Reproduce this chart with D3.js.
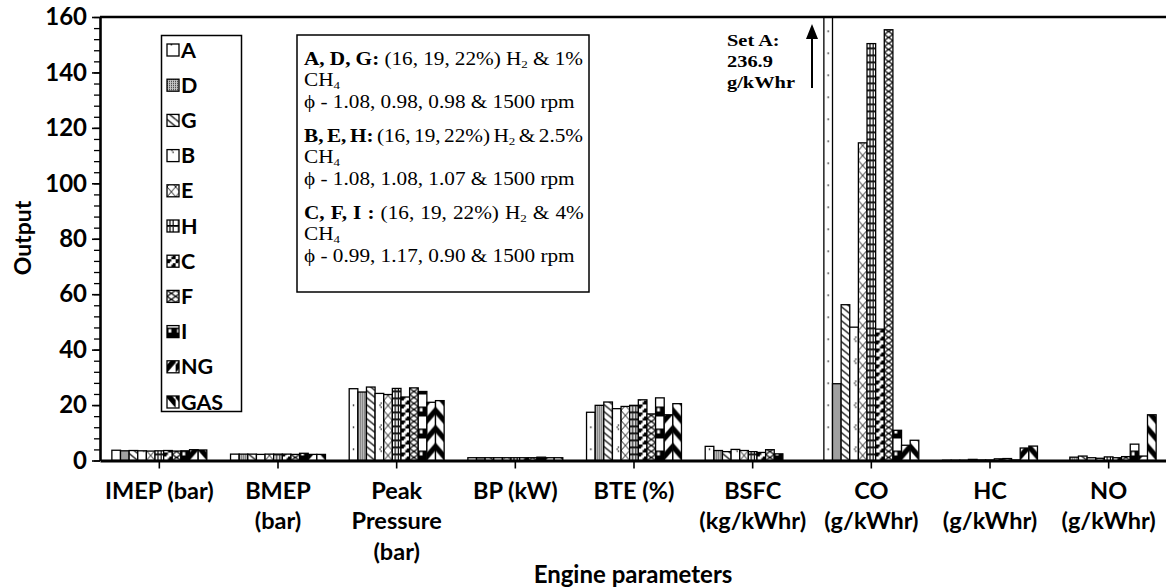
<!DOCTYPE html>
<html>
<head>
<meta charset="utf-8">
<script src="https://cdn.jsdelivr.net/npm/d3@7/dist/d3.min.js"></script>
<style>
  html, body { margin: 0; padding: 0; background: #fff; }
  svg { display: block; }
  .sans { font-family: Lato, "Open Sans", sans-serif; font-weight: 700; }
  .serif { font-family: "Liberation Serif", "Times New Roman", serif; }
</style>
</head>
<body>
<svg id="chart" width="1166" height="587"></svg>
<script>
// Engine parameter groups and their axis label lines
const categories = ["IMEP", "BMEP", "Peak Pressure", "BP", "BTE", "BSFC", "CO", "HC", "NO"];
const categoryLabels = [
  ["IMEP (bar)"], ["BMEP", "(bar)"], ["Peak", "Pressure", "(bar)"], ["BP (kW)"],
  ["BTE (%)"], ["BSFC", "(kg/kWhr)"], ["CO", "(g/kWhr)"], ["HC", "(g/kWhr)"], ["NO", "(g/kWhr)"]
];
const seriesNames = ["A", "D", "G", "B", "E", "H", "C", "F", "I", "NG", "GAS"];

// Output per set, in category order
const valuesA   = [3.7, 2.3, 25.9, 1.0, 17.4, 5.1, 236.9, 0.1, 0.0];
const valuesD   = [3.5, 2.3, 24.7, 1.0, 19.9, 3.6, 27.7, 0.1, 1.2];
const valuesG   = [3.6, 2.3, 26.5, 1.0, 21.1, 3.2, 56.2, 0.1, 1.6];
const valuesB   = [3.5, 2.2, 24.2, 1.0, 18.7, 4.0, 48.1, 0.4, 1.0];
const valuesE   = [3.4, 2.3, 23.8, 1.0, 19.5, 3.6, 114.6, 0.2, 0.8];
const valuesH   = [3.5, 2.3, 26.0, 1.0, 19.9, 3.2, 150.4, 0.2, 1.3];
const valuesC   = [3.6, 2.3, 22.9, 1.0, 21.9, 2.9, 47.4, 0.6, 1.0];
const valuesF   = [3.4, 2.2, 26.2, 1.0, 16.8, 3.9, 155.4, 0.7, 1.4];
const valuesI   = [3.5, 2.6, 24.9, 1.2, 22.6, 2.4, 10.9, 0.2, 5.9];
const valuesNG  = [3.9, 2.2, 21.0, 1.0, 16.5, 0.0, 5.5, 4.5, 1.6];
const valuesGAS = [3.8, 2.2, 21.6, 1.0, 20.5, 0.0, 7.3, 5.2, 16.5];

const yTicks = [0, 20, 40, 60, 80, 100, 120, 140, 160];
const yMinorTicks = d3.range(0, 161, 4);

const seriesValues = {
  A: valuesA, D: valuesD, G: valuesG, B: valuesB, E: valuesE, H: valuesH,
  C: valuesC, F: valuesF, I: valuesI, NG: valuesNG, GAS: valuesGAS
};

const svg = d3.select("#chart");
const plotLeft = 100, plotRight = 1168, plotTop = 17, plotBottom = 460.5;

const x0 = d3.scaleBand().domain(categories).range([plotLeft, plotRight]).paddingInner(0.2).paddingOuter(0.1);
const x1 = d3.scaleBand().domain(seriesNames).range([0, x0.bandwidth()]);
const y = d3.scaleLinear().domain([0, 160]).range([plotBottom, plotTop]);
const bw = x1.bandwidth();

// Hatch patterns, one per set; tiles are anchored at each bar's left edge and baseline
const defs = svg.append("defs");
function pat(id, h, draw, w = bw) {
  const p = defs.append("pattern").attr("id", id).attr("patternUnits", "userSpaceOnUse")
    .attr("x", 0).attr("y", 0).attr("width", w).attr("height", h);
  p.append("rect").attr("width", w).attr("height", h).attr("fill", "#fff");
  draw(p, w, h);
}
pat("p-A", 22, (p, w) => p.append("rect").attr("x", w / 2 - 0.7).attr("y", 10).attr("width", 1.4).attr("height", 1.4).attr("fill", "#000"));
pat("p-D", 2, (p) => {
  p.append("rect").attr("width", 2).attr("height", 2).attr("fill", "#c4c4c4");
  p.append("rect").attr("x", 0).attr("y", 0).attr("width", 1).attr("height", 1).attr("fill", "#333");
}, 2);
pat("p-G", 7, (p, w, h) => {
  p.append("path").attr("d", `M0,0L${w},${h}M${-w},${-h}L${w},${h}M0,${-h}L${w},0M0,${h}L${w},${2 * h}`)
    .attr("stroke", "#000").attr("stroke-width", 1.3);
});
pat("p-B", 22, (p, w) => {
  p.append("rect").attr("x", w - 3.2).attr("y", 8).attr("width", 1.3).attr("height", 1.3).attr("fill", "#000");
  p.append("rect").attr("x", w - 4.4).attr("y", 10).attr("width", 1.3).attr("height", 1.3).attr("fill", "#000");
  p.append("rect").attr("x", w - 3.2).attr("y", 12).attr("width", 1.3).attr("height", 1.3).attr("fill", "#000");
});
pat("p-E", 10, (p, w, h) => {
  p.append("path").attr("d", `M0,0L${w},${h}M${w},0L0,${h}`).attr("stroke", "#000").attr("stroke-width", 0.9);
});
pat("p-H", 7, (p, w, h) => {
  p.append("rect").attr("x", 0).attr("y", 0).attr("width", w).attr("height", 1.8).attr("fill", "#000");
  p.append("rect").attr("x", w / 2 - 2).attr("y", 1.8).attr("width", 1.2).attr("height", h - 1.8).attr("fill", "#000");
  p.append("rect").attr("x", w / 2 + 1.2).attr("y", 1.8).attr("width", 1.2).attr("height", h - 1.8).attr("fill", "#000");
});
pat("p-C", 8, (p, w, h) => {
  p.append("rect").attr("x", 0).attr("y", 0).attr("width", w / 2).attr("height", h / 2).attr("fill", "#000");
  p.append("rect").attr("x", w / 2).attr("y", h / 2).attr("width", w / 2).attr("height", h / 2).attr("fill", "#000");
  p.append("rect").attr("x", w / 2 - 1.5).attr("y", h / 2 - 1.5).attr("width", 3).attr("height", 3).attr("fill", "#fff");
});
pat("p-F", 12, (p, w, h) => {
  p.append("path").attr("d", `M0,0L${w},${h / 2}L0,${h}M${w},0L0,${h / 2}L${w},${h}`).attr("fill", "none").attr("stroke", "#000").attr("stroke-width", 1.2);
});
pat("p-I", 22, (p, w) => {
  p.append("rect").attr("x", 0).attr("y", 12).attr("width", w).attr("height", 10).attr("fill", "#000");
  p.append("rect").attr("x", 1.5).attr("y", 13.5).attr("width", w / 2 - 1.5).attr("height", 3.5).attr("fill", "#fff");
});
pat("p-NG", 18, (p, w, h) => {
  p.append("path").attr("d", `M0,${h * 0.55}L${w},0L${w},${h * 0.45}L0,${h}Z`).attr("fill", "#000");
});
pat("p-GAS", 18, (p, w, h) => {
  p.append("path").attr("d", `M0,0L${w},${h * 0.55}L${w},${h}L0,${h * 0.45}Z`).attr("fill", "#000");
});

// Plot area clip so the tall CO bar of set A is cut at the frame
defs.append("clipPath").attr("id", "plot-clip").append("rect")
  .attr("x", plotLeft).attr("y", plotTop).attr("width", plotRight - plotLeft).attr("height", plotBottom - plotTop);

// Bars
const barsLayer = svg.append("g").attr("clip-path", "url(#plot-clip)");
categories.forEach((cat, ci) => {
  seriesNames.forEach(s => {
    const v = seriesValues[s][ci];
    const g = barsLayer.append("g").attr("transform", `translate(${x0(cat) + x1(s)},${plotBottom})`);
    const h = plotBottom - y(v);
    g.append("rect")
      .attr("x", 0).attr("y", -h).attr("width", bw).attr("height", h)
      .attr("fill", `url(#p-${s})`).attr("stroke", "#000").attr("stroke-width", 1.3);
  });
});

// Y axis: major and minor ticks
const yMinor = svg.append("g").attr("transform", `translate(${plotLeft},0)`);
yMinor.call(d3.axisLeft(y).tickValues(yMinorTicks).tickSize(6).tickFormat(""))
  .call(g => g.select(".domain").remove())
  .call(g => g.selectAll("line").attr("stroke", "#000").attr("stroke-width", 1.3));
const yMajor = svg.append("g").attr("transform", `translate(${plotLeft},0)`)
  .call(d3.axisLeft(y).tickValues(yTicks).tickSize(8).tickSizeOuter(0).tickPadding(5));
yMajor.select(".domain").attr("stroke", "#000").attr("stroke-width", 2.6);
yMajor.selectAll("line").attr("stroke", "#000").attr("stroke-width", 1.6);
yMajor.selectAll("text").attr("class", "sans").style("font-size", "24px").attr("fill", "#000");

// X axis with ticks at group centres
const xAxisG = svg.append("g").attr("transform", `translate(0,${plotBottom})`)
  .call(d3.axisBottom(x0).tickSize(8).tickSizeOuter(0).tickFormat(""));
xAxisG.select(".domain").attr("stroke", "#000").attr("stroke-width", 2.8);
xAxisG.selectAll("line").attr("stroke", "#000").attr("stroke-width", 1.6);

categories.forEach((cat, ci) => {
  const cx = x0(cat) + x0.bandwidth() / 2;
  const t = svg.append("text").attr("class", "sans").attr("text-anchor", "middle")
    .style("font-size", "23.5px").attr("x", cx);
  categoryLabels[ci].forEach((line, li) => {
    t.append("tspan").attr("x", cx).attr("y", 498.5 + li * 30.5).text(line);
  });
});

// Top frame line
svg.append("line").attr("x1", plotLeft).attr("x2", 1166).attr("y1", plotTop).attr("y2", plotTop)
  .attr("stroke", "#000").attr("stroke-width", 2.6);

// Axis titles
svg.append("text").attr("class", "sans").attr("text-anchor", "middle").style("font-size", "23px")
  .attr("transform", "translate(31,238) rotate(-90)").text("Output");
svg.append("text").attr("class", "sans").attr("text-anchor", "middle").style("font-size", "24px")
  .attr("x", 633).attr("y", 583).text("Engine parameters");

// Legend
const legend = svg.append("g");
legend.append("rect").attr("x", 161.5).attr("y", 35.5).attr("width", 80).attr("height", 376)
  .attr("fill", "#fff").attr("stroke", "#000").attr("stroke-width", 1.5);
seriesNames.forEach((s, i) => {
  const cy = 50 + i * 35.2;
  const g = legend.append("g").attr("transform", `translate(167,${cy + 6})`);
  g.append("rect").attr("x", 0).attr("y", -12).attr("width", 12).attr("height", 12)
    .attr("fill", `url(#p-${s})`).attr("stroke", "#000").attr("stroke-width", 1.3);
  legend.append("text").attr("class", "sans").style("font-size", "21.5px")
    .attr("x", 181).attr("y", cy + 7.5).text(s);
});

// Composition note (serif text set slightly wide, as in the printed figure)
const note = svg.append("g");
note.append("rect").attr("x", 297).attr("y", 35).attr("width", 292).attr("height", 257)
  .attr("fill", "#fff").attr("stroke", "#000").attr("stroke-width", 1.5);
const noteScale = 1.18;
const noteText = note.append("g").attr("transform", `translate(304,0) scale(${noteScale},1)`);
const noteBlocks = [
  { head: "A, D, G:", ch: "1%", phi: "\u03D5 - 1.08, 0.98, 0.98 & 1500 rpm", y: 65 },
  { head: "B, E, H:", ch: "2.5%", phi: "\u03D5 - 1.08, 1.08, 1.07 & 1500 rpm", y: 142 },
  { head: "C, F, I :", ch: "4%", phi: "\u03D5 - 0.99, 1.17, 0.90 & 1500 rpm", y: 219 }
];
const noteSize = 18;
const lineWidth = (583 - 304) / noteScale;
noteBlocks.forEach(b => {
  const t1 = noteText.append("text").attr("class", "serif").style("font-size", noteSize + "px")
    .attr("x", 0).attr("y", b.y);
  t1.append("tspan").attr("font-weight", "700").text(b.head + " ");
  t1.append("tspan").text("(16, 19, 22%) H");
  t1.append("tspan").attr("dy", 3).style("font-size", "11px").text("2");
  t1.append("tspan").attr("dy", -3).text(" & " + b.ch);
  // justify the first line to the right edge of the box by adjusting the word gaps
  const natural = t1.node().getComputedTextLength();
  const extra = (lineWidth - natural) / 8;
  t1.style("word-spacing", extra + "px");
  const t2 = noteText.append("text").attr("class", "serif").style("font-size", noteSize + "px")
    .attr("x", 0).attr("y", b.y + 21.5);
  t2.append("tspan").text("CH");
  t2.append("tspan").attr("dy", 3).style("font-size", "11px").text("4");
  noteText.append("text").attr("class", "serif").style("font-size", noteSize + "px")
    .attr("x", 0).attr("y", b.y + 43).text(b.phi);
});

// Off-scale callout for set A carbon monoxide
const callout = svg.append("g");
const calloutText = callout.append("g").attr("transform", "translate(727,0) scale(1.2,1)");
["Set A:", String(valuesA[6]), "g/kWhr"].forEach((line, i) => {
  calloutText.append("text").attr("class", "serif").attr("font-weight", "700").style("font-size", "17px")
    .attr("x", 0).attr("y", 46 + i * 21).text(line);
});
const ax = 812;
callout.append("line").attr("x1", ax).attr("x2", ax).attr("y1", 88).attr("y2", 36)
  .attr("stroke", "#000").attr("stroke-width", 2);
callout.append("path").attr("d", `M${ax - 6},${39}L${ax},${24}L${ax + 6},${39}Z`).attr("fill", "#000");
</script>
</body>
</html>
